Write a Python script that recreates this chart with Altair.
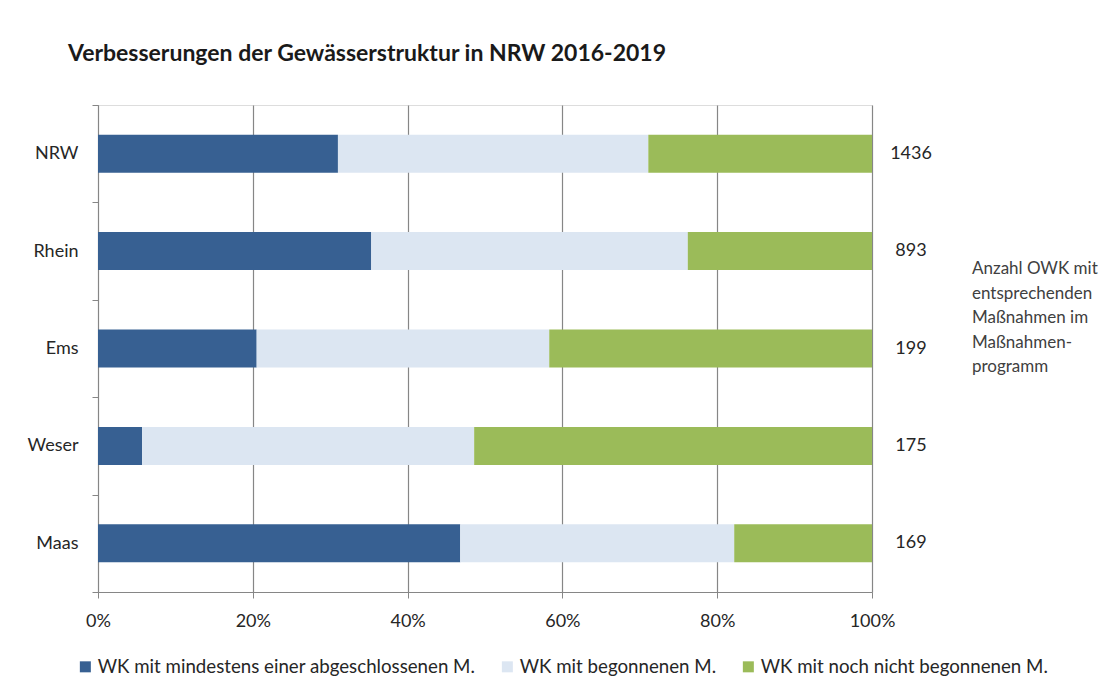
import altair as alt
import pandas as pd

regions = ["NRW", "Rhein", "Ems", "Weser", "Maas"]
abgeschlossen = [31.0, 35.3, 20.5, 5.7, 46.8]
begonnen = [40.1, 40.9, 37.8, 42.9, 35.4]
nicht_begonnen = [28.9, 23.8, 41.7, 51.4, 17.8]
anzahl = [1436, 893, 199, 175, 169]

series = [
    "WK mit mindestens einer abgeschlossenen M.",
    "WK mit begonnenen M.",
    "WK mit noch nicht begonnenen M.",
]
colors = ["#376092", "#dce6f2", "#9bbb59"]
title_text = "Verbesserungen der Gewässerstruktur in NRW 2016-2019"
note_lines = ["Anzahl OWK mit", "entsprechenden", "\u00a0Maßnahmen im", "Maßnahmen-", "programm"]

rows = []
for i, r in enumerate(regions):
    for k, vals in enumerate([abgeschlossen, begonnen, nicht_begonnen]):
        rows.append({"Region": r, "Serie": series[k], "idx": k, "Wert": vals[i] / 100})
df = pd.DataFrame(rows)
df_cnt = pd.DataFrame({"Region": regions, "Anzahl": anzahl})

FONT = "Lato"
W, H = 774, 487
PAD_L, PAD_T = 90, 97

yenc = alt.Y(
    "Region:N",
    sort=regions,
    title=None,
    scale=alt.Scale(paddingInner=0, paddingOuter=0),
    axis=alt.Axis(
        tickBand="extent",
        domainColor="#868686",
        tickColor="#868686",
        tickSize=6,
        labelPadding=14,
        labelFontSize=18,
        labelFont=FONT,
        labelColor="#262626",
        grid=False,
    ),
)

bars = (
    alt.Chart(df)
    .mark_bar(size=38)
    .encode(
        x=alt.X(
            "Wert:Q",
            stack="zero",
            scale=alt.Scale(domain=[0, 1], nice=False),
            title=None,
            axis=alt.Axis(
                format=".0%",
                values=[0, 0.2, 0.4, 0.6, 0.8, 1.0],
                grid=True,
                gridColor="#868686",
                gridWidth=1.2,
                domainColor="#868686",
                tickColor="#868686",
                tickSize=6,
                labelPadding=14,
                labelFlush=False,
                labelFontSize=18,
                labelFont=FONT,
                labelColor="#262626",
            ),
        ),
        y=yenc,
        color=alt.Color(
            "Serie:N",
            scale=alt.Scale(domain=series, range=colors),
            legend=alt.Legend(
                title=None,
                orient="none",
                direction="horizontal",
                legendX=-22,
                legendY=552,
                symbolType="square",
                symbolSize=121,
                symbolStrokeWidth=0,
                labelFontSize=18.7,
                labelFont=FONT,
                labelColor="#262626",
                labelOffset=3,
                columnPadding=22,
                labelLimit=600,
            ),
        ),
        order=alt.Order("idx:Q"),
    )
)

counts = (
    alt.Chart(df_cnt)
    .mark_text(align="center", baseline="middle", fontSize=18, font=FONT, color="#262626")
    .encode(y=alt.Y("Region:N", sort=regions), x=alt.value(W + 39), text="Anzahl:Q")
)

note = (
    alt.Chart(pd.DataFrame({"t": [note_lines]}))
    .mark_text(align="left", baseline="top", fontSize=17, font=FONT, color="#404040", lineHeight=24.5)
    .encode(x=alt.value(W + 100), y=alt.value(156), text="t")
)

chart = (
    alt.layer(bars, counts, note)
    .properties(
        width=W,
        height=H,
        autosize=alt.AutoSizeParams(type="none"),
        padding={"left": PAD_L, "top": PAD_T, "right": 1094 - PAD_L - W, "bottom": 674 - PAD_T - H},
        title=alt.TitleParams(
            title_text,
            anchor="start",
            frame="group",
            dx=-30,
            offset=30,
            fontSize=23,
            font=FONT,
            fontWeight="bold",
            color="#1a1a1a",
        ),
    )
    .configure_view(stroke=None)
    .configure(background="white")
)

chart.save("out.html", embed_options={"renderer": "svg", "actions": False})
